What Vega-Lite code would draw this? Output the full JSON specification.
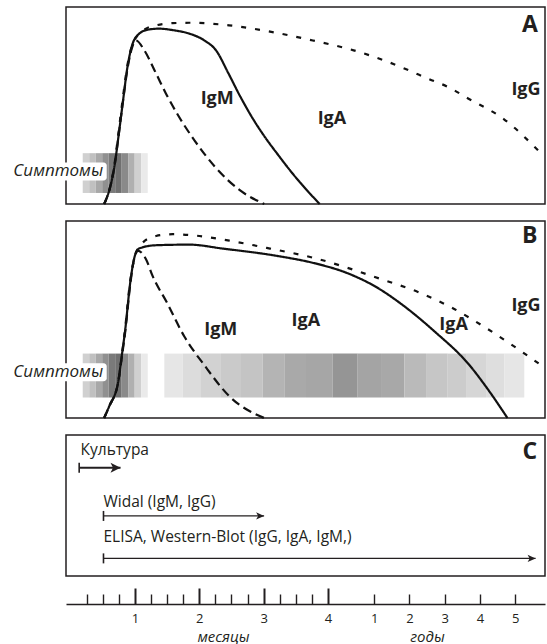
{
  "$schema": "https://vega.github.io/schema/vega-lite/v6.json",
  "padding": {"left": 12, "top": 6, "right": 2, "bottom": 0},
  "spacing": 10,
  "background": "white",
  "config": {"view": {"stroke": "#231f20", "strokeWidth": 1.5}, "font": "Open Sans"},
  "datasets": {
    "curves": [
      {"panel":"A","series":"IgG","t":0.52,"v":0},{"panel":"A","series":"IgG","t":0.6,"v":0.07},{"panel":"A","series":"IgG","t":0.68,"v":0.2},{"panel":"A","series":"IgG","t":0.75,"v":0.38},{"panel":"A","series":"IgG","t":0.82,"v":0.56},{"panel":"A","series":"IgG","t":0.88,"v":0.7},{"panel":"A","series":"IgG","t":0.95,"v":0.8},{"panel":"A","series":"IgG","t":1.05,"v":0.86},{"panel":"A","series":"IgG","t":1.171,"v":0.89},{"panel":"A","series":"IgG","t":1.327,"v":0.907},{"panel":"A","series":"IgG","t":1.586,"v":0.918},{"panel":"A","series":"IgG","t":1.84,"v":0.92},{"panel":"A","series":"IgG","t":2.462,"v":0.907},{"panel":"A","series":"IgG","t":3.1,"v":0.875},{"panel":"A","series":"IgG","t":3.765,"v":0.83},{"panel":"A","series":"IgG","t":4.4,"v":0.78},{"panel":"A","series":"IgG","t":4.93,"v":0.722},{"panel":"A","series":"IgG","t":5.188,"v":0.688},{"panel":"A","series":"IgG","t":5.603,"v":0.63},{"panel":"A","series":"IgG","t":5.863,"v":0.595},{"panel":"A","series":"IgG","t":6.174,"v":0.537},{"panel":"A","series":"IgG","t":6.739,"v":0.43},{"panel":"A","series":"IgG","t":7.306,"v":0.26},
      {"panel":"A","series":"IgA","t":0.52,"v":0},{"panel":"A","series":"IgA","t":0.6,"v":0.07},{"panel":"A","series":"IgA","t":0.68,"v":0.19},{"panel":"A","series":"IgA","t":0.75,"v":0.36},{"panel":"A","series":"IgA","t":0.82,"v":0.54},{"panel":"A","series":"IgA","t":0.88,"v":0.69},{"panel":"A","series":"IgA","t":0.95,"v":0.8},{"panel":"A","series":"IgA","t":1.05,"v":0.86},{"panel":"A","series":"IgA","t":1.2,"v":0.885},{"panel":"A","series":"IgA","t":1.378,"v":0.89},{"panel":"A","series":"IgA","t":1.6,"v":0.882},{"panel":"A","series":"IgA","t":1.844,"v":0.865},{"panel":"A","series":"IgA","t":2.08,"v":0.83},{"panel":"A","series":"IgA","t":2.26,"v":0.78},{"panel":"A","series":"IgA","t":2.45,"v":0.665},{"panel":"A","series":"IgA","t":2.63,"v":0.55},{"panel":"A","series":"IgA","t":2.82,"v":0.44},{"panel":"A","series":"IgA","t":3.02,"v":0.34},{"panel":"A","series":"IgA","t":3.224,"v":0.25},{"panel":"A","series":"IgA","t":3.45,"v":0.155},{"panel":"A","series":"IgA","t":3.66,"v":0.075},{"panel":"A","series":"IgA","t":3.872,"v":0},
      {"panel":"A","series":"IgM","t":0.52,"v":0},{"panel":"A","series":"IgM","t":0.6,"v":0.07},{"panel":"A","series":"IgM","t":0.68,"v":0.19},{"panel":"A","series":"IgM","t":0.75,"v":0.36},{"panel":"A","series":"IgM","t":0.82,"v":0.54},{"panel":"A","series":"IgM","t":0.88,"v":0.68},{"panel":"A","series":"IgM","t":0.95,"v":0.79},{"panel":"A","series":"IgM","t":1.016,"v":0.83},{"panel":"A","series":"IgM","t":1.145,"v":0.78},{"panel":"A","series":"IgM","t":1.327,"v":0.663},{"panel":"A","series":"IgM","t":1.482,"v":0.56},{"panel":"A","series":"IgM","t":1.656,"v":0.458},{"panel":"A","series":"IgM","t":1.927,"v":0.322},{"panel":"A","series":"IgM","t":2.252,"v":0.186},{"panel":"A","series":"IgM","t":2.63,"v":0.07},{"panel":"A","series":"IgM","t":3.01,"v":0},
      {"panel":"B","series":"IgG","t":0.52,"v":0},{"panel":"B","series":"IgG","t":0.6,"v":0.06},{"panel":"B","series":"IgG","t":0.737,"v":0.18},{"panel":"B","series":"IgG","t":0.8,"v":0.33},{"panel":"B","series":"IgG","t":0.845,"v":0.45},{"panel":"B","series":"IgG","t":0.927,"v":0.7},{"panel":"B","series":"IgG","t":1.0,"v":0.82},{"panel":"B","series":"IgG","t":1.12,"v":0.89},{"panel":"B","series":"IgG","t":1.327,"v":0.924},{"panel":"B","series":"IgG","t":1.586,"v":0.933},{"panel":"B","series":"IgG","t":2.0,"v":0.924},{"panel":"B","series":"IgG","t":2.467,"v":0.9},{"panel":"B","series":"IgG","t":3.1,"v":0.86},{"panel":"B","series":"IgG","t":3.765,"v":0.814},{"panel":"B","series":"IgG","t":4.846,"v":0.703},{"panel":"B","series":"IgG","t":5.4,"v":0.64},{"panel":"B","series":"IgG","t":5.927,"v":0.56},{"panel":"B","series":"IgG","t":6.468,"v":0.455},{"panel":"B","series":"IgG","t":7.0,"v":0.34},{"panel":"B","series":"IgG","t":7.306,"v":0.27},
      {"panel":"B","series":"IgA","t":0.52,"v":0},{"panel":"B","series":"IgA","t":0.6,"v":0.06},{"panel":"B","series":"IgA","t":0.737,"v":0.18},{"panel":"B","series":"IgA","t":0.8,"v":0.33},{"panel":"B","series":"IgA","t":0.845,"v":0.44},{"panel":"B","series":"IgA","t":0.927,"v":0.69},{"panel":"B","series":"IgA","t":0.98,"v":0.8},{"panel":"B","series":"IgA","t":1.06,"v":0.86},{"panel":"B","series":"IgA","t":1.327,"v":0.877},{"panel":"B","series":"IgA","t":1.844,"v":0.88},{"panel":"B","series":"IgA","t":2.364,"v":0.86},{"panel":"B","series":"IgA","t":3.224,"v":0.822},{"panel":"B","series":"IgA","t":3.8,"v":0.785},{"panel":"B","series":"IgA","t":4.305,"v":0.735},{"panel":"B","series":"IgA","t":4.75,"v":0.665},{"panel":"B","series":"IgA","t":5.115,"v":0.585},{"panel":"B","series":"IgA","t":5.656,"v":0.44},{"panel":"B","series":"IgA","t":6.197,"v":0.27},{"panel":"B","series":"IgA","t":6.5,"v":0.14},{"panel":"B","series":"IgA","t":6.792,"v":0},
      {"panel":"B","series":"IgM","t":0.52,"v":0},{"panel":"B","series":"IgM","t":0.6,"v":0.06},{"panel":"B","series":"IgM","t":0.737,"v":0.18},{"panel":"B","series":"IgM","t":0.8,"v":0.32},{"panel":"B","series":"IgM","t":0.845,"v":0.43},{"panel":"B","series":"IgM","t":0.927,"v":0.68},{"panel":"B","series":"IgM","t":0.97,"v":0.78},{"panel":"B","series":"IgM","t":1.04,"v":0.85},{"panel":"B","series":"IgM","t":1.171,"v":0.806},{"panel":"B","series":"IgM","t":1.275,"v":0.72},{"panel":"B","series":"IgM","t":1.498,"v":0.585},{"panel":"B","series":"IgM","t":1.765,"v":0.415},{"panel":"B","series":"IgM","t":2.09,"v":0.263},{"panel":"B","series":"IgM","t":2.468,"v":0.11},{"panel":"B","series":"IgM","t":3.008,"v":0}
    ],
    "symptoms": [
      {"panel":"A","start":0.187,"end":0.288,"sev":0.184},{"panel":"A","start":0.288,"end":0.389,"sev":0.247},{"panel":"A","start":0.389,"end":0.49,"sev":0.341},{"panel":"A","start":0.49,"end":0.591,"sev":0.435},{"panel":"A","start":0.591,"end":0.692,"sev":0.522},{"panel":"A","start":0.692,"end":0.793,"sev":0.561},{"panel":"A","start":0.793,"end":0.894,"sev":0.459},{"panel":"A","start":0.894,"end":0.995,"sev":0.31},{"panel":"A","start":0.995,"end":1.096,"sev":0.184},{"panel":"A","start":1.096,"end":1.198,"sev":0.082},
      {"panel":"B","start":0.187,"end":0.288,"sev":0.184},{"panel":"B","start":0.288,"end":0.389,"sev":0.247},{"panel":"B","start":0.389,"end":0.49,"sev":0.341},{"panel":"B","start":0.49,"end":0.591,"sev":0.435},{"panel":"B","start":0.591,"end":0.692,"sev":0.522},{"panel":"B","start":0.692,"end":0.793,"sev":0.561},{"panel":"B","start":0.793,"end":0.894,"sev":0.459},{"panel":"B","start":0.894,"end":0.995,"sev":0.31},{"panel":"B","start":0.995,"end":1.096,"sev":0.184},{"panel":"B","start":1.096,"end":1.198,"sev":0.082},
      {"panel":"B","start":1.456,"end":1.742,"sev":0.098},{"panel":"B","start":1.742,"end":2.026,"sev":0.137},{"panel":"B","start":2.026,"end":2.337,"sev":0.176},{"panel":"B","start":2.337,"end":2.648,"sev":0.208},{"panel":"B","start":2.648,"end":2.986,"sev":0.231},{"panel":"B","start":2.986,"end":3.322,"sev":0.294},{"panel":"B","start":3.322,"end":3.659,"sev":0.337},{"panel":"B","start":3.659,"end":4.075,"sev":0.349},{"panel":"B","start":4.075,"end":4.463,"sev":0.416},{"panel":"B","start":4.463,"end":4.826,"sev":0.357},{"panel":"B","start":4.826,"end":5.188,"sev":0.341},{"panel":"B","start":5.188,"end":5.526,"sev":0.271},{"panel":"B","start":5.526,"end":5.863,"sev":0.224},{"panel":"B","start":5.863,"end":6.148,"sev":0.2},{"panel":"B","start":6.148,"end":6.459,"sev":0.161},{"panel":"B","start":6.459,"end":6.743,"sev":0.129},{"panel":"B","start":6.743,"end":7.054,"sev":0.098}
    ],
    "notes": [
      {"panel":"A","kind":"ig","text":"IgM","t":2.278,"v":0.534},{"panel":"A","kind":"ig","text":"IgA","t":4.062,"v":0.432},{"panel":"A","kind":"ig","text":"IgG","t":7.08,"v":0.578},{"panel":"A","kind":"letter","text":"A","t":7.14,"v":0.907},{"panel":"A","kind":"sym","text":"Симптомы","t":0.52,"v":0.165},
      {"panel":"B","kind":"ig","text":"IgM","t":2.333,"v":0.449},{"panel":"B","kind":"ig","text":"IgA","t":3.656,"v":0.492},{"panel":"B","kind":"ig","text":"IgA","t":5.955,"v":0.474},{"panel":"B","kind":"ig","text":"IgG","t":7.08,"v":0.568},{"panel":"B","kind":"letter","text":"B","t":7.14,"v":0.924},{"panel":"B","kind":"sym","text":"Симптомы","t":0.52,"v":0.232},
      {"panel":"C","kind":"letter","text":"C","t":7.14,"v":0.881},{"panel":"C","kind":"test","text":"Культура","t":0.154,"v":0.895},{"panel":"C","kind":"test","text":"Widal (IgM, IgG)","t":0.51,"v":0.527},{"panel":"C","kind":"test","text":"ELISA, Western-Blot (IgG, IgA, IgM,)","t":0.51,"v":0.279}
    ],
    "tests": [
      {"name":"Культура","start":0.132,"end":0.775,"lane":0.768},
      {"name":"Widal","start":0.51,"end":3.008,"lane":0.426},
      {"name":"ELISA","start":0.51,"end":7.23,"lane":0.125}
    ]
  },
  "vconcat": [
    {
      "width": 479, "height": 197,
      "layer": [
        {"data":{"name":"symptoms"},"transform":[{"filter":"datum.panel=='A'"}],"mark":{"type":"rect"},
         "encoding":{"x":{"field":"start","type":"quantitative","scale":{"domain":[-0.073,7.376],"nice":false,"zero":false},"axis":null},"x2":{"field":"end"},
           "y":{"datum":0.056,"type":"quantitative","scale":{"domain":[0,1],"nice":false,"zero":false},"axis":null},"y2":{"datum":0.258},
           "color":{"field":"sev","type":"quantitative","scale":{"domain":[0,1],"range":["#ffffff","#000000"],"interpolate":"rgb"},"legend":null}}},
        {"data":{"values":[{"label":"Симптомы"}]},"mark":{"type":"rect","fill":"#ffffff","opacity":1,"cornerRadius":3},
         "encoding":{"x":{"datum":-0.9,"type":"quantitative","axis":null},"x2":{"datum":0.56},"y":{"datum":0.119,"type":"quantitative","axis":null},"y2":{"datum":0.211}}},
        {"data":{"name":"notes"},"transform":[{"filter":"datum.panel=='A' && datum.kind=='sym'"}],"mark":{"type":"text","font":"Open Sans","fontStyle":"italic","fontSize":17,"align":"right","baseline":"middle","dx":-1,"color":"#231f20"},
         "encoding":{"x":{"field":"t","type":"quantitative","axis":null},"y":{"field":"v","type":"quantitative","axis":null},"text":{"field":"text"}}},
        {"data":{"name":"curves"},"transform":[{"filter":"datum.panel=='A'"}],"mark":{"type":"line","interpolate":"monotone","color":"#111111","strokeWidth":2.2},
         "encoding":{"x":{"field":"t","type":"quantitative","axis":null},"y":{"field":"v","type":"quantitative","axis":null},
           "strokeDash":{"field":"series","type":"nominal","scale":{"domain":["IgM","IgA","IgG"],"range":[[9,5],[1,0],[5,9]]},"legend":null}}},
        {"data":{"name":"notes"},"transform":[{"filter":"datum.panel=='A' && datum.kind=='ig'"}],"mark":{"type":"text","font":"Open Sans","fontWeight":"bold","fontSize":18,"baseline":"middle","color":"#231f20"},
         "encoding":{"x":{"field":"t","type":"quantitative","axis":null},"y":{"field":"v","type":"quantitative","axis":null},"text":{"field":"text"}}},
        {"data":{"name":"notes"},"transform":[{"filter":"datum.panel=='A' && datum.kind=='letter'"}],"mark":{"type":"text","font":"Open Sans","fontWeight":"bold","fontSize":23,"baseline":"middle","color":"#231f20"},
         "encoding":{"x":{"field":"t","type":"quantitative","axis":null},"y":{"field":"v","type":"quantitative","axis":null},"text":{"field":"text"}}}
      ]
    },
    {
      "width": 479, "height": 197,
      "layer": [
        {"data":{"name":"symptoms"},"transform":[{"filter":"datum.panel=='B'"}],"mark":{"type":"rect"},
         "encoding":{"x":{"field":"start","type":"quantitative","scale":{"domain":[-0.073,7.376],"nice":false,"zero":false},"axis":null},"x2":{"field":"end"},
           "y":{"datum":0.104,"type":"quantitative","scale":{"domain":[0,1],"nice":false,"zero":false},"axis":null},"y2":{"datum":0.327},
           "color":{"field":"sev","type":"quantitative","scale":{"domain":[0,1],"range":["#ffffff","#000000"],"interpolate":"rgb"},"legend":null}}},
        {"data":{"values":[{"label":"Симптомы"}]},"mark":{"type":"rect","fill":"#ffffff","opacity":1,"cornerRadius":3},
         "encoding":{"x":{"datum":-0.9,"type":"quantitative","axis":null},"x2":{"datum":0.56},"y":{"datum":0.186,"type":"quantitative","axis":null},"y2":{"datum":0.278}}},
        {"data":{"name":"notes"},"transform":[{"filter":"datum.panel=='B' && datum.kind=='sym'"}],"mark":{"type":"text","font":"Open Sans","fontStyle":"italic","fontSize":17,"align":"right","baseline":"middle","dx":-1,"color":"#231f20"},
         "encoding":{"x":{"field":"t","type":"quantitative","axis":null},"y":{"field":"v","type":"quantitative","axis":null},"text":{"field":"text"}}},
        {"data":{"name":"curves"},"transform":[{"filter":"datum.panel=='B'"}],"mark":{"type":"line","interpolate":"monotone","color":"#111111","strokeWidth":2.2},
         "encoding":{"x":{"field":"t","type":"quantitative","axis":null},"y":{"field":"v","type":"quantitative","axis":null},
           "strokeDash":{"field":"series","type":"nominal","scale":{"domain":["IgM","IgA","IgG"],"range":[[9,5],[1,0],[5,9]]},"legend":null}}},
        {"data":{"name":"notes"},"transform":[{"filter":"datum.panel=='B' && datum.kind=='ig'"}],"mark":{"type":"text","font":"Open Sans","fontWeight":"bold","fontSize":18,"baseline":"middle","color":"#231f20"},
         "encoding":{"x":{"field":"t","type":"quantitative","axis":null},"y":{"field":"v","type":"quantitative","axis":null},"text":{"field":"text"}}},
        {"data":{"name":"notes"},"transform":[{"filter":"datum.panel=='B' && datum.kind=='letter'"}],"mark":{"type":"text","font":"Open Sans","fontWeight":"bold","fontSize":23,"baseline":"middle","color":"#231f20"},
         "encoding":{"x":{"field":"t","type":"quantitative","axis":null},"y":{"field":"v","type":"quantitative","axis":null},"text":{"field":"text"}}}
      ]
    },
    {
      "width": 479, "height": 141,
      "resolve": {"axis": {"x": "independent"}},
      "layer": [
        {"data":{"name":"tests"},"transform":[{"filter":"datum.name!='Культура'"}],"mark":{"type":"rule","color":"#231f20","strokeWidth":1.3},
         "encoding":{"x":{"field":"start","type":"quantitative","scale":{"domain":[-0.073,7.376],"nice":false,"zero":false},
             "axis":{"orient":"bottom","offset":28,"values":[1,2,3,4],"format":"d","domain":true,"domainColor":"#231f20","domainWidth":1.5,"ticks":true,"tickSize":-16,"tickWidth":2,"tickColor":"#231f20","labels":true,"labelFont":"Open Sans","labelFontSize":13,"labelColor":"#231f20","labelPadding":24,"labelFlush":false,"labelOverlap":false,"grid":false,
               "title":"месяцы","titleFont":"Open Sans","titleFontStyle":"italic","titleFontWeight":"normal","titleFontSize":15,"titleColor":"#231f20","titleX":157,"titleY":37,"titleAlign":"center","titleBaseline":"alphabetic","titleAngle":0}},
           "x2":{"field":"end"},
           "y":{"field":"lane","type":"quantitative","scale":{"domain":[0,1],"nice":false,"zero":false},"axis":null}}},
        {"data":{"name":"tests"},"transform":[{"filter":"datum.name=='Культура'"}],"mark":{"type":"rule","color":"#231f20","strokeWidth":2},
         "encoding":{"x":{"field":"start","type":"quantitative","axis":null},"x2":{"field":"end"},"y":{"field":"lane","type":"quantitative","axis":null}}},
        {"data":{"name":"tests"},"mark":{"type":"point","shape":"M0,-1L0,1","size":100,"filled":false,"color":"#231f20","opacity":1,"strokeWidth":1.6},
         "encoding":{"x":{"field":"start","type":"quantitative",
             "axis":{"orient":"bottom","offset":28,"values":[0.25,0.5,0.75,1.25,1.5,1.75,2.25,2.5,2.75,3.25,3.5,3.75,4.72,5.268,5.816,6.364,6.912],"domain":false,"ticks":true,"tickSize":-10,"tickWidth":1.4,"tickColor":"#231f20","labels":true,"labelExpr":"datum.value > 4.5 ? format(round((datum.value - 4.72) / 0.548) + 1, 'd') : ''","labelFont":"Open Sans","labelFontSize":13,"labelColor":"#231f20","labelPadding":18,"labelFlush":false,"labelOverlap":false,"grid":false,
               "title":"годы","titleFont":"Open Sans","titleFontStyle":"italic","titleFontWeight":"normal","titleFontSize":15,"titleColor":"#231f20","titleX":361,"titleY":37,"titleAlign":"center","titleBaseline":"alphabetic","titleAngle":0}},
           "y":{"field":"lane","type":"quantitative","axis":null}}},
        {"data":{"name":"tests"},"transform":[{"filter":"datum.name=='Культура'"}],"mark":{"type":"point","shape":"M0,0L-1,-0.5L-0.75,0L-1,0.5Z","size":400,"filled":true,"color":"#231f20","opacity":1,"strokeWidth":0},
         "encoding":{"x":{"field":"end","type":"quantitative","axis":null},"y":{"field":"lane","type":"quantitative","axis":null}}},
        {"data":{"name":"tests"},"transform":[{"filter":"datum.name!='Культура'"}],"mark":{"type":"point","shape":"M0,0L-1,-0.45L-0.75,0L-1,0.45Z","size":256,"filled":true,"color":"#231f20","opacity":1,"strokeWidth":0},
         "encoding":{"x":{"field":"end","type":"quantitative","axis":null},"y":{"field":"lane","type":"quantitative","axis":null}}},
        {"data":{"name":"notes"},"transform":[{"filter":"datum.panel=='C' && datum.kind=='test'"}],"mark":{"type":"text","font":"Open Sans","fontSize":15.5,"align":"left","baseline":"middle","color":"#231f20"},
         "encoding":{"x":{"field":"t","type":"quantitative","axis":null},"y":{"field":"v","type":"quantitative","axis":null},"text":{"field":"text"}}},
        {"data":{"name":"notes"},"transform":[{"filter":"datum.panel=='C' && datum.kind=='letter'"}],"mark":{"type":"text","font":"Open Sans","fontWeight":"bold","fontSize":23,"baseline":"middle","color":"#231f20"},
         "encoding":{"x":{"field":"t","type":"quantitative","axis":null},"y":{"field":"v","type":"quantitative","axis":null},"text":{"field":"text"}}}
      ]
    }
  ]
}
